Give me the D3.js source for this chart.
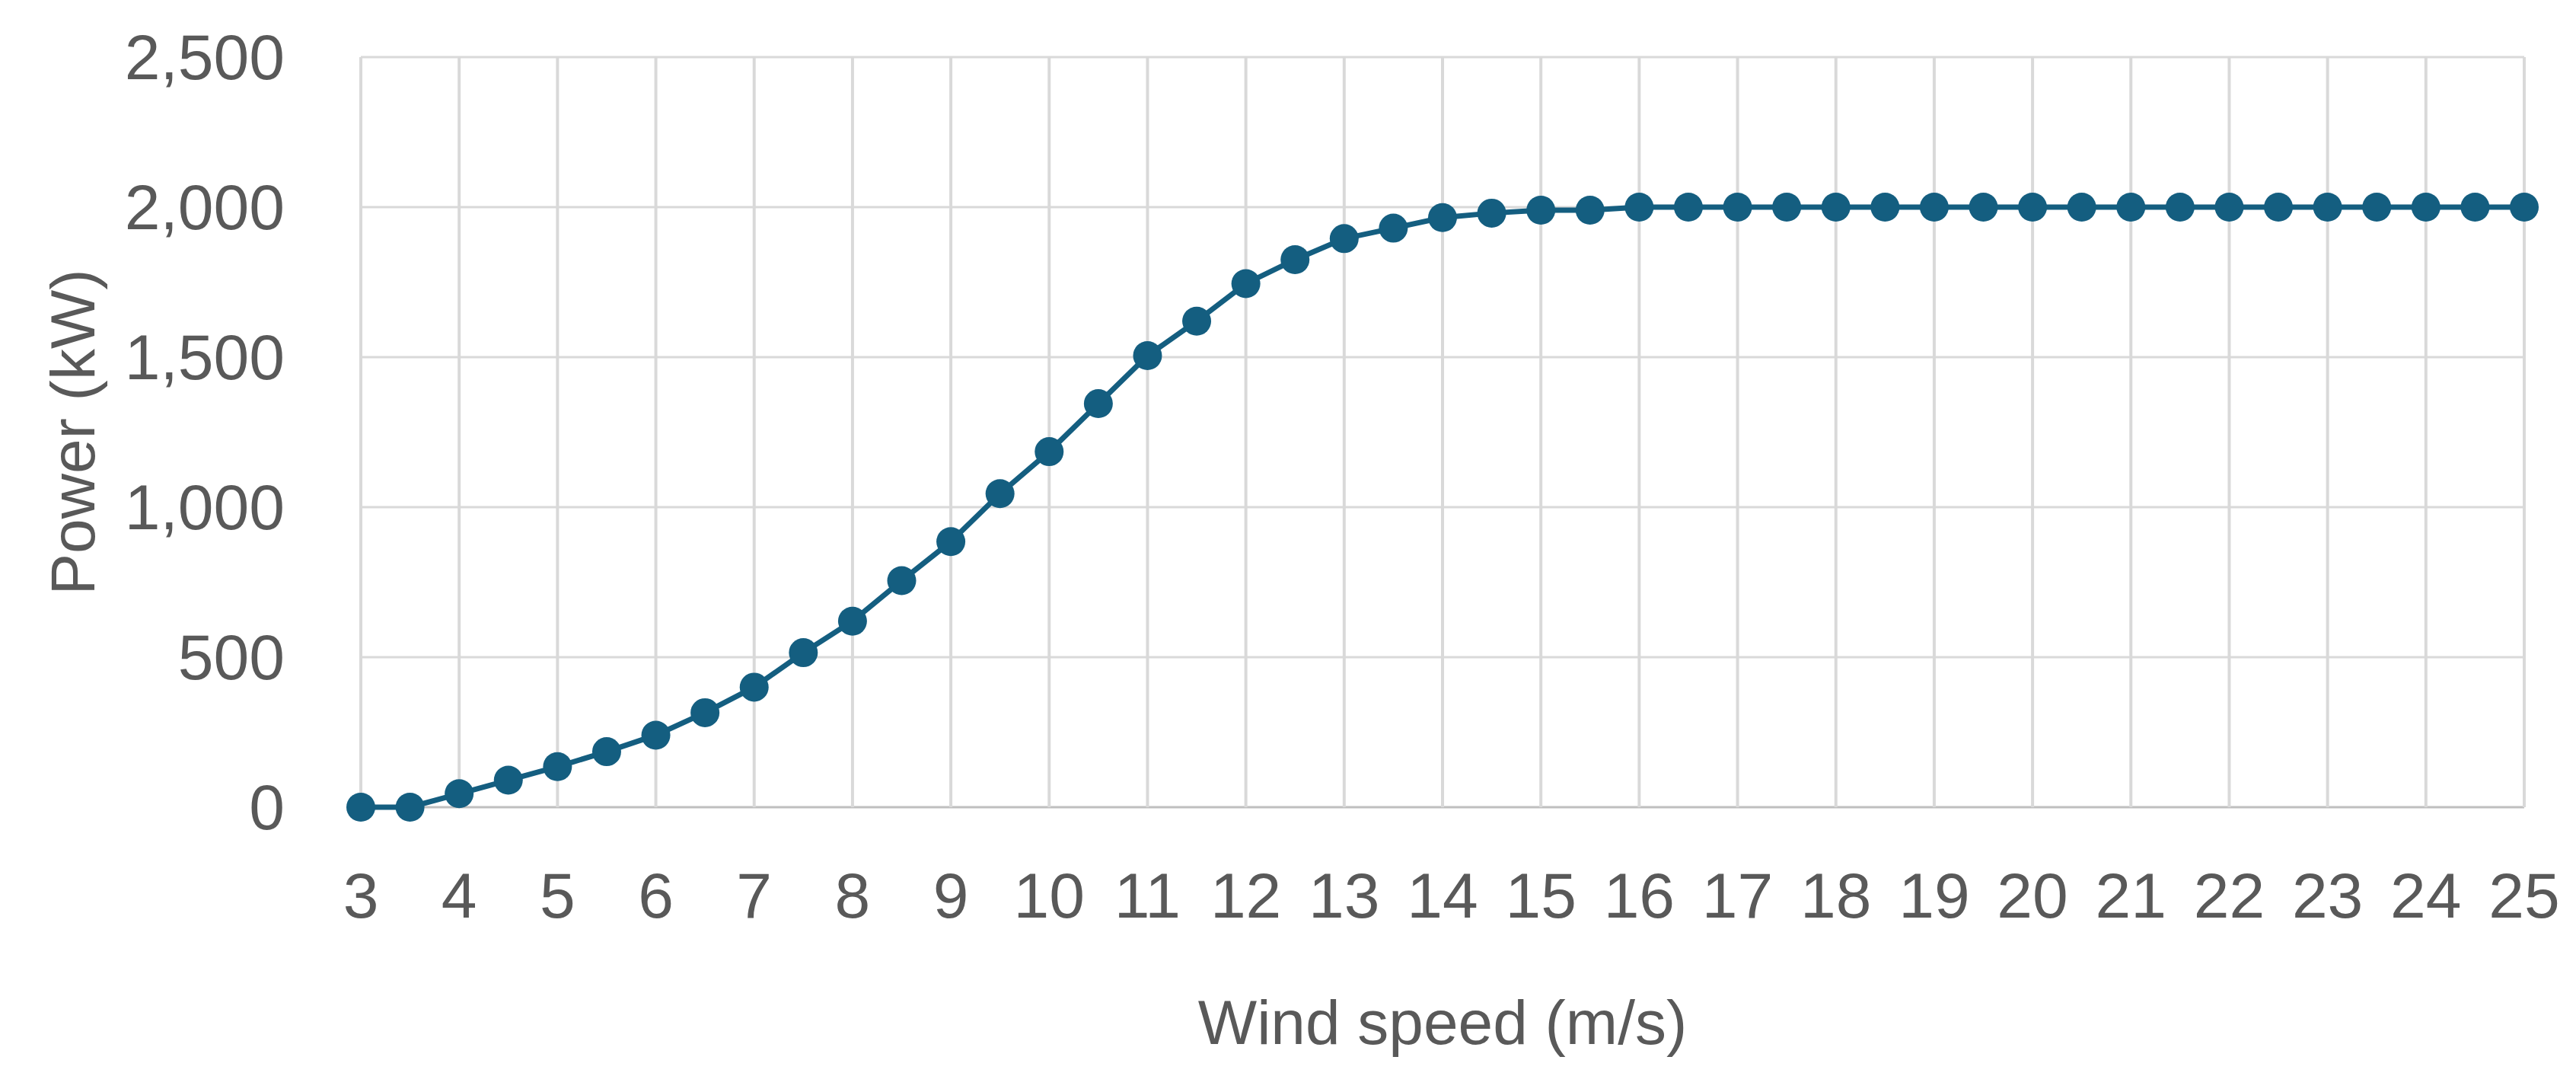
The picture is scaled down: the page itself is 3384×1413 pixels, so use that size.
<!DOCTYPE html>
<html><head><meta charset="utf-8">
<script src="https://cdn.jsdelivr.net/npm/d3@7"></script>
<style>body{margin:0;background:#fff}</style></head>
<body><svg id="c" width="3384" height="1413"></svg>
<script>
const windSpeed = [3,3.5,4,4.5,5,5.5,6,6.5,7,7.5,8,8.5,9,9.5,10,10.5,11,11.5,12,12.5,13,13.5,14,14.5,15,15.5,16,16.5,17,17.5,18,18.5,19,19.5,20,20.5,21,21.5,22,22.5,23,23.5,24,24.5,25];
const power = [0,0,45,90,135,185,240,315,400,515,620,755,885,1045,1185,1345,1505,1620,1745,1825,1895,1930,1965,1980,1990,1990,2000,2000,2000,2000,2000,2000,2000,2000,2000,2000,2000,2000,2000,2000,2000,2000,2000,2000,2000];
const xTicks = d3.range(3,26,1);
const yTicks = [0,500,1000,1500,2000,2500];

const svg = d3.select("#c");
const L=474,R=3316,T=75,B=1060;
const x = d3.scaleLinear().domain([3,25]).range([L,R]);
const y = d3.scaleLinear().domain([0,2500]).range([B,T]);
const font = "'Liberation Sans Narrow','Liberation Sans',Arial,sans-serif";
const grey="#595959";

svg.append("g").selectAll("line").data(yTicks).join("line")
  .attr("x1",L).attr("x2",R).attr("y1",d=>y(d)).attr("y2",d=>y(d))
  .attr("stroke",d=>d===0?"#bfbfbf":"#d9d9d9").attr("stroke-width",3);
svg.append("g").selectAll("line").data(xTicks).join("line")
  .attr("x1",d=>x(d)).attr("x2",d=>x(d)).attr("y1",T).attr("y2",B)
  .attr("stroke","#d9d9d9").attr("stroke-width",4);

svg.append("g").selectAll("text").data(yTicks).join("text")
  .attr("x",L-100).attr("y",d=>y(d)).attr("dy","0.35em").attr("text-anchor","end")
  .attr("font-family","'Liberation Sans',Arial,sans-serif").attr("font-size",84).attr("fill",grey)
  .text(d3.format(","));
svg.append("g").selectAll("text").data(xTicks).join("text")
  .attr("x",d=>x(d)).attr("y",B+116).attr("dy","0.35em").attr("text-anchor","middle")
  .attr("font-family","'Liberation Sans',Arial,sans-serif").attr("font-size",84).attr("fill",grey)
  .text(d=>d);

svg.append("text").attr("transform",`translate(${62},${y(1250)}) rotate(-90)`)
  .attr("dy","0.75em").attr("text-anchor","middle").attr("font-family",font).attr("font-size",82).attr("fill",grey)
  .text("Power (kW)");
svg.append("text").attr("x",(L+R)/2).attr("y",1342).attr("dy","0.35em").attr("text-anchor","middle")
  .attr("font-family",font).attr("font-size",82).attr("fill",grey).text("Wind speed (m/s)");

const pts = windSpeed.map((w,i)=>[w,power[i]]);
const color="#145e80";
svg.append("path").datum(pts).attr("fill","none").attr("stroke",color).attr("stroke-width",7)
  .attr("d",d3.line().x(d=>x(d[0])).y(d=>y(d[1])));
svg.append("g").selectAll("circle").data(pts).join("circle")
  .attr("cx",d=>x(d[0])).attr("cy",d=>y(d[1])).attr("r",19).attr("fill",color);
</script></body></html>
